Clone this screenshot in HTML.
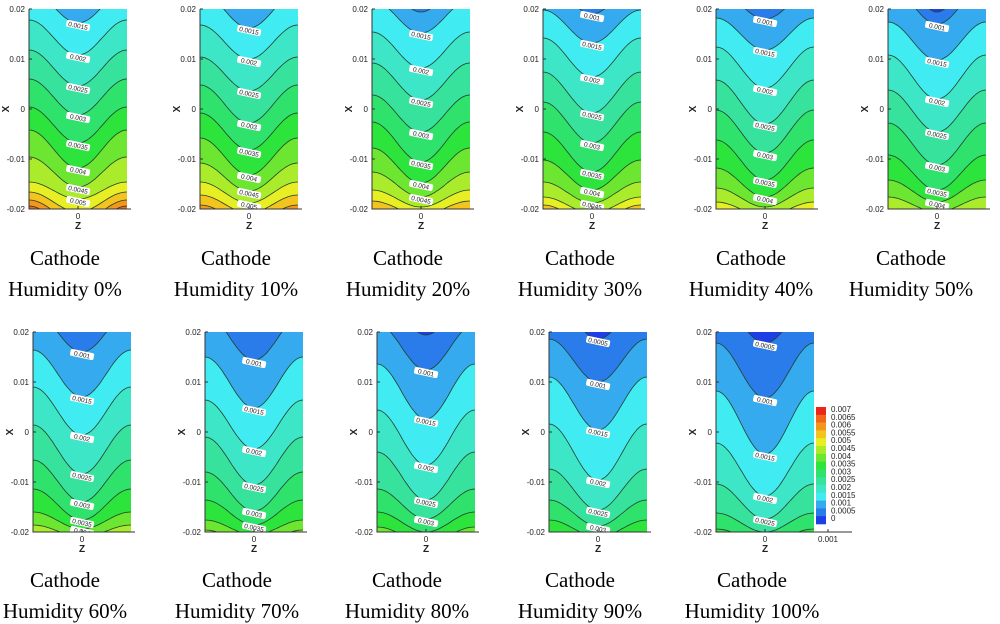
<!DOCTYPE html>
<html><head><meta charset="utf-8">
<style>
html,body{margin:0;padding:0;background:#fff;}
svg{display:block;}
.cap{font-family:"Liberation Serif",serif;font-size:21px;fill:#000;}
.tk{font-family:"Liberation Sans",sans-serif;font-size:8px;fill:#222;}
.ax{font-family:"Liberation Sans",sans-serif;font-size:10px;font-weight:bold;fill:#222;}
.cl{font-family:"Liberation Sans",sans-serif;font-size:6.5px;fill:#222;}
</style></head>
<body>
<svg id="fig" width="1000" height="624" viewBox="0 0 1000 624" xmlns="http://www.w3.org/2000/svg"></svg>
<script>
// ---- data ----
const humidityLabels = ["0%","10%","20%","30%","40%","50%","60%","70%","80%","90%","100%"];
const firstLevel = [0.0015,0.0015,0.001,0.001,0.0005,0.0005,0.0005,0.0005,0.0005,0.0005,0.0005];
const centerX = [
 [0.0172,0.0108,0.0046,-0.0012,-0.0068,-0.0118,-0.0156,-0.018,-0.0206,-0.0226,-0.0246],
 [0.0162,0.01,0.0036,-0.0028,-0.0082,-0.0132,-0.0164,-0.0188,-0.0208,-0.0226,-0.0242],
 [0.0194,0.0152,0.0082,0.0018,-0.0046,-0.0106,-0.0148,-0.0176,-0.0196,-0.0212,-0.0228],
 [0.019,0.0132,0.0064,-0.0008,-0.0068,-0.0126,-0.0162,-0.0188,-0.0208,-0.0226],
 [0.0202,0.018,0.0118,0.0042,-0.003,-0.0088,-0.0142,-0.0176,-0.0196,-0.0214],
 [0.0194,0.017,0.0098,0.002,-0.0046,-0.0112,-0.0162,-0.0186,-0.0206],
 [0.022,0.016,0.007,-0.0006,-0.0084,-0.014,-0.0176,-0.0194,-0.021,-0.0226],
 [0.023,0.0144,0.0048,-0.0034,-0.0106,-0.0158,-0.0186,-0.0206,-0.0224],
 [0.0194,0.0124,0.0026,-0.0066,-0.0136,-0.0174,-0.02,-0.022],
 [0.0186,0.01,0.0004,-0.0096,-0.0156,-0.0188,-0.021,-0.0228],
 [0.0178,0.0068,-0.0044,-0.0128,-0.0174,-0.02,-0.022]
];
const edgeX = [
 [0.0238,0.0178,0.0118,0.006,0.0004,-0.0042,-0.0096,-0.0146,-0.0166,-0.0182,-0.0194],
 [0.0234,0.0168,0.0104,0.0048,-0.0008,-0.0058,-0.0108,-0.0146,-0.0172,-0.0192,-0.0206],
 [0.0268,0.0218,0.0154,0.0092,0.0028,-0.0026,-0.0078,-0.0126,-0.0162,-0.0184,-0.0202],
 [0.0258,0.0198,0.0142,0.0074,0.0014,-0.0046,-0.0102,-0.0146,-0.0176,-0.0192],
 [0.0288,0.0238,0.0182,0.0124,0.0058,-0.0002,-0.0062,-0.0118,-0.0158,-0.0186],
 [0.0298,0.0248,0.0174,0.0108,0.0038,-0.0028,-0.0092,-0.0142,-0.0176],
 [0.029,0.024,0.0164,0.009,0.0014,-0.0056,-0.0114,-0.016,-0.0186,-0.02],
 [0.029,0.0236,0.015,0.0064,-0.001,-0.008,-0.0136,-0.0176,-0.0196],
 [0.028,0.0216,0.0136,0.0044,-0.004,-0.0114,-0.016,-0.019],
 [0.027,0.0186,0.011,0.0016,-0.0074,-0.0136,-0.0176,-0.02],
 [0.026,0.0178,0.0082,-0.0022,-0.0104,-0.0162,-0.0194]
];
const yTicks = [0.02,0.01,0,-0.01,-0.02];
const yTickLabels = ["0.02","0.01","0","-0.01","-0.02"];
const legendValues = [0.007,0.0065,0.006,0.0055,0.005,0.0045,0.004,0.0035,0.003,0.0025,0.002,0.0015,0.001,0.0005,0];
const legendLabels = ["0.007","0.0065","0.006","0.0055","0.005","0.0045","0.004","0.0035","0.003","0.0025","0.002","0.0015","0.001","0.0005","0"];
const bandColors = ["#1e3fe6","#2a7cea","#35aaee","#40ecf2","#3ee6c8","#36e29c","#2ee26c","#2ce43c","#6ce630","#aaec2c","#e8ee24","#f4c41e","#f4961c","#f2661a","#e8261a"];

// ---- layout ----
const panelLeft = [29,200,372,543,716,888,33,205,377,549,716];
const panelTop = [9,9,9,9,9,9,332,332,332,332,332];
const capCenter = [65,236,408,580,751,911,65,237,407,580,752];
const capBase1 = [265,265,265,265,265,265,587,587,587,587,587];
const PW = 98, PH = 200;
const NS = "http://www.w3.org/2000/svg";
const svg = document.getElementById('fig');
function el(tag, attrs, parent){ const e=document.createElementNS(NS,tag); for(const k in attrs) e.setAttribute(k,attrs[k]); (parent||svg).appendChild(e); return e; }
function band(v){ let i=Math.round(v/0.0005); i=Math.max(0,Math.min(bandColors.length-1,i)); return bandColors[i]; }
function fmt(v){ return String(Math.round(v*10000)/10000); }

for(let p=0;p<11;p++){
  const L=panelLeft[p], T=panelTop[p];
  const yS = x => T + (0.02 - x)/0.04*PH;
  const g = el('g',{});
  
  
  const cid='clip'+p;
  const cp = el('clipPath',{id:cid},g); el('rect',{x:L,y:T,width:PW,height:PH},cp);
  const pg = el('g',{'clip-path':'url(#'+cid+')'},g);
  const bg = el('rect',{x:L,y:T,width:PW,height:PH,fill:band(firstLevel[p]-0.0005)},pg);
  
  
  const curves=[];
  for(let i=0;i<centerX[p].length;i++){
    const lev = firstLevel[p]+0.0005*i;
    const yc=yS(centerX[p][i]), ye=yS(edgeX[p][i]);
    const pts=[];
    for(let k=0;k<=40;k++){
      const u=k/40*2-1; const b=(1+Math.cos(Math.PI*u))/2;
      pts.push([L+k/40*PW, ye+(yc-ye)*b]);
    }
    curves.push({lev,pts,yc});
    let d='M'+pts.map(q=>q[0].toFixed(1)+','+q[1].toFixed(1)).join(' L');
    const fillD = d+' L'+(L+PW)+','+(T+PH+50)+' L'+L+','+(T+PH+50)+' Z';
    const f = el('path',{d:fillD,fill:band(lev)},pg);
    
    
  }
  curves.forEach(c=>{
    const d='M'+c.pts.map(q=>q[0].toFixed(1)+','+q[1].toFixed(1)).join(' L');
    const ln = el('path',{d:d,fill:'none',stroke:'#24402e','stroke-width':0.8},pg);
    
    
  });
  curves.forEach(c=>{
    if(c.yc < T+4 || c.yc > T+PH-3) return;
    const cx=L+PW/2, cy=c.yc+3;
    const lg = el('g',{transform:'rotate(12 '+cx+' '+cy+')'},pg);
    
    
    el('rect',{x:cx-12,y:cy-4,width:24,height:7,rx:2,fill:'#fff'},lg);
    const t=el('text',{x:cx,y:cy+2,'text-anchor':'middle',class:'cl'},lg);
    t.textContent=fmt(c.lev);
  });
  // axes
  const ax = el('path',{d:'M'+L+','+T+' L'+L+','+(T+PH)+' L'+(L+PW+(p===10?38:4))+','+(T+PH),fill:'none',stroke:'#333','stroke-width':1},g);
  
  
  yTicks.forEach((v,i)=>{
    const y=yS(v);
    el('line',{x1:L,x2:L+3,y1:y,y2:y,stroke:'#333','stroke-width':1},g);
    const t=el('text',{x:L-4,y:y+3,'text-anchor':'end',class:'tk'},g);
    
    
    t.textContent=yTickLabels[i];
  });
  el('line',{x1:L+PW/2,x2:L+PW/2,y1:T+PH,y2:T+PH-3,stroke:'#333','stroke-width':1},g);
  const zt=el('text',{x:L+PW/2,y:T+PH+10,'text-anchor':'middle',class:'tk'},g);
  
  
  zt.textContent='0';
  const zl=el('text',{x:L+PW/2,y:T+PH+20,'text-anchor':'middle',class:'ax'},g);
  
  
  zl.textContent='Z';
  const xl=el('text',{x:L-24,y:T+PH/2+4,'text-anchor':'middle',class:'ax',transform:'rotate(-90 '+(L-24)+' '+(T+PH/2)+')'},g);
  
  
  xl.textContent='X';
  // captions
  const c1=el('text',{x:capCenter[p],y:capBase1[p],'text-anchor':'middle',class:'cap'});
  
  
  c1.textContent='Cathode';
  const c2=el('text',{x:capCenter[p],y:capBase1[p]+31,'text-anchor':'middle',class:'cap'});
  
  
  c2.textContent='Humidity '+humidityLabels[p];
}
// extra tick on last panel x-axis
const et=el('text',{x:828,y:542,'text-anchor':'middle',class:'tk'});


et.textContent='0.001';
el('line',{x1:828,x2:828,y1:532,y2:529,stroke:'#333','stroke-width':1});
// legend
const lg=el('g',{});


const LX=816, LY=407, BH=7.8;
legendValues.forEach((v,i)=>{
  const r=el('rect',{x:LX,y:LY+i*BH,width:10,height:BH+0.3,fill:band(v)},lg);
  
  
  const t=el('text',{x:LX+15,y:LY+i*BH+5,class:'tk'},lg);
  
  
  t.setAttribute('font-size','7');
  t.textContent=legendLabels[i];
});
</script>
</body></html>
